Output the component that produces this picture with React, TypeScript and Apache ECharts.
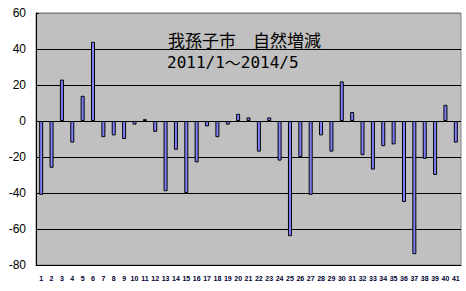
import React, { useEffect, useRef } from "react";
import * as echarts from "echarts";

const categories: string[] = Array.from({ length: 41 }, (_, i) => String(i + 1));
const values: number[] = [
  -41, -26, 23, -12, 14, 44, -9, -8, -10, -2,
  1, -6, -39, -16, -40, -23, -3, -9, -2, 4,
  2, -17, 2, -22, -64, -20, -41, -8, -17, 22,
  5, -19, -27, -14, -13, -45, -74, -21, -30, 9,
  -12,
];
const yTicks = { min: -80, max: 60, interval: 20 };
const titleLine1 = "我孫子市　自然増減";
const periodStart = "2011/1";
const periodSep = "～";
const periodEnd = "2014/5";

export default function App() {
  const ref = useRef<HTMLDivElement>(null);
  useEffect(() => {
    if (!ref.current) return;
    const chart = echarts.init(ref.current, null, { renderer: "svg" });
    chart.setOption({
      animation: false,
      backgroundColor: "#ffffff",
      grid: {
        left: 36,
        top: 13,
        right: 5,
        bottom: 26,
        show: true,
        backgroundColor: "#C0C0C0",
        borderColor: "#808080",
        borderWidth: 1,
      },
      graphic: [
        {
          type: "text",
          left: 168,
          top: 31,
          z: 10,
          style: {
            text: titleLine1,
            fontFamily: "Noto Sans CJK JP",
            fontSize: 17,
            fill: "#000",
          },
        },
        {
          type: "text",
          left: 167,
          top: 54,
          z: 10,
          style: {
            text: `{d|${periodStart}}{w|${periodSep}}{d|${periodEnd}}`,
            fill: "#000",
            rich: {
              d: { fontFamily: "DejaVu Sans Mono", fontSize: 16, fill: "#000" },
              w: { fontFamily: "Noto Sans CJK JP", fontSize: 16, fill: "#000" },
            },
          },
        },
      ],
      xAxis: {
        type: "category",
        data: categories,
        axisLine: { show: true, onZero: false, lineStyle: { color: "#000", width: 1 } },
        axisTick: { show: false },
        axisLabel: {
          interval: 0,
          margin: 10,
          fontSize: 7,
          fontWeight: "bold",
          fontFamily: "Liberation Sans",
          color: "#000033",
        },
        splitLine: { show: false },
      },
      yAxis: {
        type: "value",
        min: yTicks.min,
        max: yTicks.max,
        interval: yTicks.interval,
        axisLine: { show: true, lineStyle: { color: "#000", width: 1 } },
        axisTick: { show: true, inside: true, length: 3, lineStyle: { color: "#000" } },
        axisLabel: {
          fontSize: 12,
          fontFamily: "Liberation Sans",
          color: "#000",
          margin: 10,
        },
        splitLine: {
          show: true,
          lineStyle: {
            color: ["#000", "#000", "#000", "#000", "#000", "#000", "#000", "#808080"],
            width: 1,
          },
        },
      },
      series: [
        {
          type: "bar",
          data: values,
          barWidth: 4,
          itemStyle: { color: "#8080FF", borderColor: "#000", borderWidth: 1 },
        },
      ],
    });
    return () => chart.dispose();
  }, []);
  return (
    <div
      ref={ref}
      style={{ position: "fixed", left: 0, top: 0, width: 466, height: 291 }}
    />
  );
}
